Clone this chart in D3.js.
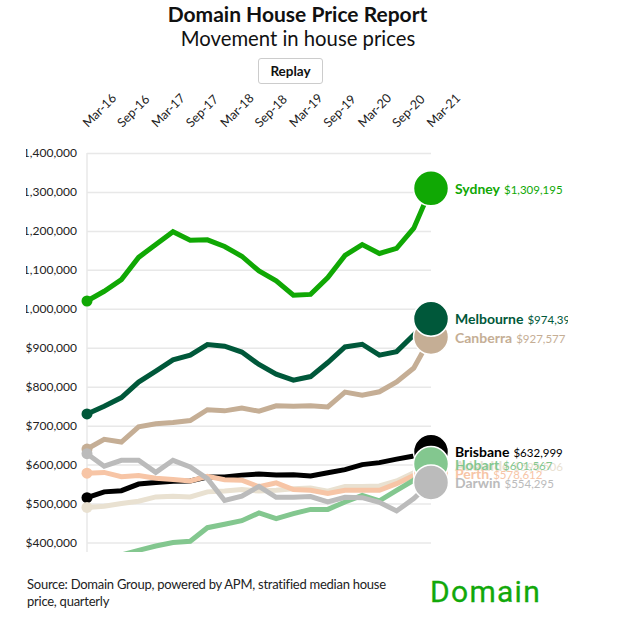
<!DOCTYPE html>
<html>
<head>
<meta charset="utf-8">
<script src="https://cdnjs.cloudflare.com/ajax/libs/d3/7.8.5/d3.min.js"></script>
<style>
  html, body { margin: 0; padding: 0; background: #fff; }
  body { width: 623px; height: 643px; overflow: hidden; position: relative; font-family: Lato, "Noto Sans", sans-serif; color: #111; }
  #title { position: absolute; left: 0; width: 595px; top: 1px; text-align: center; font-size: 21px; font-weight: 700; line-height: 26px; }
  #subtitle { position: absolute; left: 0; width: 596px; top: 25px; text-align: center; font-size: 20.3px; line-height: 26px; }
  #replay { position: absolute; left: 258px; top: 58px; width: 65px; height: 26px; box-sizing: border-box; border: 1px solid #ccc; border-radius: 3px; background: #fff; font: 700 13.5px Lato, sans-serif; color: #111; padding: 0; }
  #chart { position: absolute; left: 26px; top: 0; }
  #source { position: absolute; left: 27px; top: 576px; width: 400px; font-size: 13px; letter-spacing: -0.25px; line-height: 17px; color: #222; }
  #logo { position: absolute; left: 430px; top: 570px; font-size: 30px; line-height: 44px; color: #12a80a; font-family: Roboto, sans-serif; letter-spacing: 1.3px; -webkit-text-stroke: 0.3px #12a80a; }
</style>
</head>
<body>
<div id="title">Domain House Price Report</div>
<div id="subtitle">Movement in house prices</div>
<button id="replay">Replay</button>
<svg id="chart" width="542" height="560"></svg>
<div id="source">Source: Domain Group, powered by APM, stratified median house<br>price, quarterly</div>
<div id="logo">Domain</div>
<script>
const quarters = ['Mar-16', 'Jun-16', 'Sep-16', 'Dec-16', 'Mar-17', 'Jun-17', 'Sep-17', 'Dec-17', 'Mar-18', 'Jun-18', 'Sep-18',
  'Dec-18', 'Mar-19', 'Jun-19', 'Sep-19', 'Dec-19', 'Mar-20', 'Jun-20', 'Sep-20', 'Dec-20', 'Mar-21'];
const y_ticks = [400000, 500000, 600000, 700000, 800000, 900000, 1000000, 1100000, 1200000, 1300000, 1400000];

// values in $ thousands; last one comes from the label
const sydney = [1020, 1045, 1075, 1132, 1165, 1198, 1176, 1177, 1160, 1135, 1097, 1072, 1035, 1037, 1080, 1137, 1165, 1142, 1155, 1207, 1309.195];
const canberra = [640, 665, 658, 697, 705, 708, 713, 741, 738, 745, 737, 751, 750, 751, 748, 786, 778, 787, 812, 848, 927.577];
const melbourne = [730, 750, 772, 812, 840, 869, 881, 908, 904, 889, 857, 832, 817, 826, 862, 902, 909, 881, 890, 933, 974.397];
const brisbane = [515, 530, 533, 550, 554, 557, 558, 568, 568, 573, 576, 573, 574, 571, 579, 587, 600, 605, 614, 622, 632.999];
const adelaide = [490, 493, 500, 506, 517, 519, 517, 530, 532, 536, 532, 534, 538, 540, 532, 544, 544, 545, 558, 579, 598.506];
const perth = [578, 580, 569, 572, 565, 562, 558, 570, 561, 560, 543, 553, 536, 534, 526, 534, 534, 534, 551, 572, 578.612];
const hobart = [330, 345, 368, 380, 391, 400, 403, 438, 447, 456, 476, 461, 474, 485, 485, 504, 521, 507, 534, 560, 601.567];
const darwin = [628, 596, 611, 611, 580, 611, 594, 564, 508, 519, 544, 516, 516, 518, 504, 516, 515, 503, 481, 513, 554.295];

// drawn in this order, later ones sit on top
const city_names = ['Sydney', 'Canberra', 'Melbourne', 'Brisbane', 'Adelaide', 'Perth', 'Hobart', 'Darwin'];
const city_values = [sydney, canberra, melbourne, brisbane, adelaide, perth, hobart, darwin];
const city_colors = ['#10a804', '#c5ae95', '#00583a', '#000000', '#e9e1d1', '#f7c5a6', '#83c78f', '#bbbbbb'];

const svg = d3.select('#chart');
const left_edge = 61; // x=87 on the page, the svg itself starts at x=26
const x = d3.scalePoint().domain(quarters).range([left_edge, left_edge + 344]);
const y = d3.scaleLinear().domain([400000, 1400000]).range([542.5, 153]);
const fmt = d3.format('$,');

svg.append('defs').append('clipPath').attr('id', 'plot_clip')
  .append('rect')
  .attr('x', left_edge - 10).attr('y', 140)
  .attr('width', 400).attr('height', 412);

// grid + y axis
const y_axis = d3.axisLeft(y).tickValues(y_ticks).tickSize(-344).tickPadding(10).tickFormat(fmt);
const y_g = svg.append('g')
  .attr('transform', `translate(${left_edge},0)`)
  .call(y_axis);
y_g.select('.domain').remove();
y_g.selectAll('line').attr('stroke', '#e8e8e8').attr('stroke-width', 1.5);
y_g.selectAll('text')
  .attr('fill', '#222')
  .style('font-family', 'Lato, sans-serif')
  .style('font-size', '12px');

svg.append('line')
  .attr('x1', left_edge).attr('x2', left_edge)
  .attr('y1', y(1400000)).attr('y2', 552)
  .attr('stroke', '#e8e8e8').attr('stroke-width', 1.5);

// rotated quarter labels on top, every second quarter
svg.append('g').selectAll('text')
  .data(quarters.filter((d, i) => i % 2 === 0))
  .join('text')
  .attr('transform', d => `translate(${x(d) + 1},128) rotate(-45)`)
  .attr('fill', '#222')
  .style('font-size', '12.5px')
  .text(d => d);

// lines and start dots get clipped at the bottom of the plot
const plot = svg.append('g').attr('clip-path', 'url(#plot_clip)');
const line = d3.line().x((d, i) => x(quarters[i])).y(d => y(d * 1000)).curve(d3.curveLinear);

city_names.forEach((name, i) => {
  plot.append('path')
    .datum(city_values[i])
    .attr('d', line)
    .attr('fill', 'none')
    .attr('stroke', city_colors[i])
    .attr('stroke-width', 5)
    .attr('stroke-linejoin', 'miter');
  plot.append('circle')
    .attr('cx', x(quarters[0]))
    .attr('cy', y(city_values[i][0] * 1000))
    .attr('r', 5.5)
    .attr('fill', city_colors[i]);
});

// end circles and labels
city_names.forEach((name, i) => {
  const vals = city_values[i];
  const last = vals[vals.length - 1] * 1000;
  svg.append('circle')
    .attr('cx', x(quarters[20]))
    .attr('cy', y(last))
    .attr('r', 17.5)
    .attr('fill', city_colors[i])
    .attr('stroke', '#fff')
    .attr('stroke-width', 1.5);
  const label = svg.append('text')
    .attr('x', x(quarters[20]) + 24)
    .attr('y', y(last))
    .attr('dy', '0.35em')
    .attr('fill', city_colors[i]);
  label.append('tspan')
    .style('font-size', '14px')
    .style('font-weight', 700)
    .text(name);
  label.append('tspan')
    .attr('dx', 4)
    .style('font-size', '11.5px')
    .text(fmt(Math.round(last)));
});
</script>
</body>
</html>
